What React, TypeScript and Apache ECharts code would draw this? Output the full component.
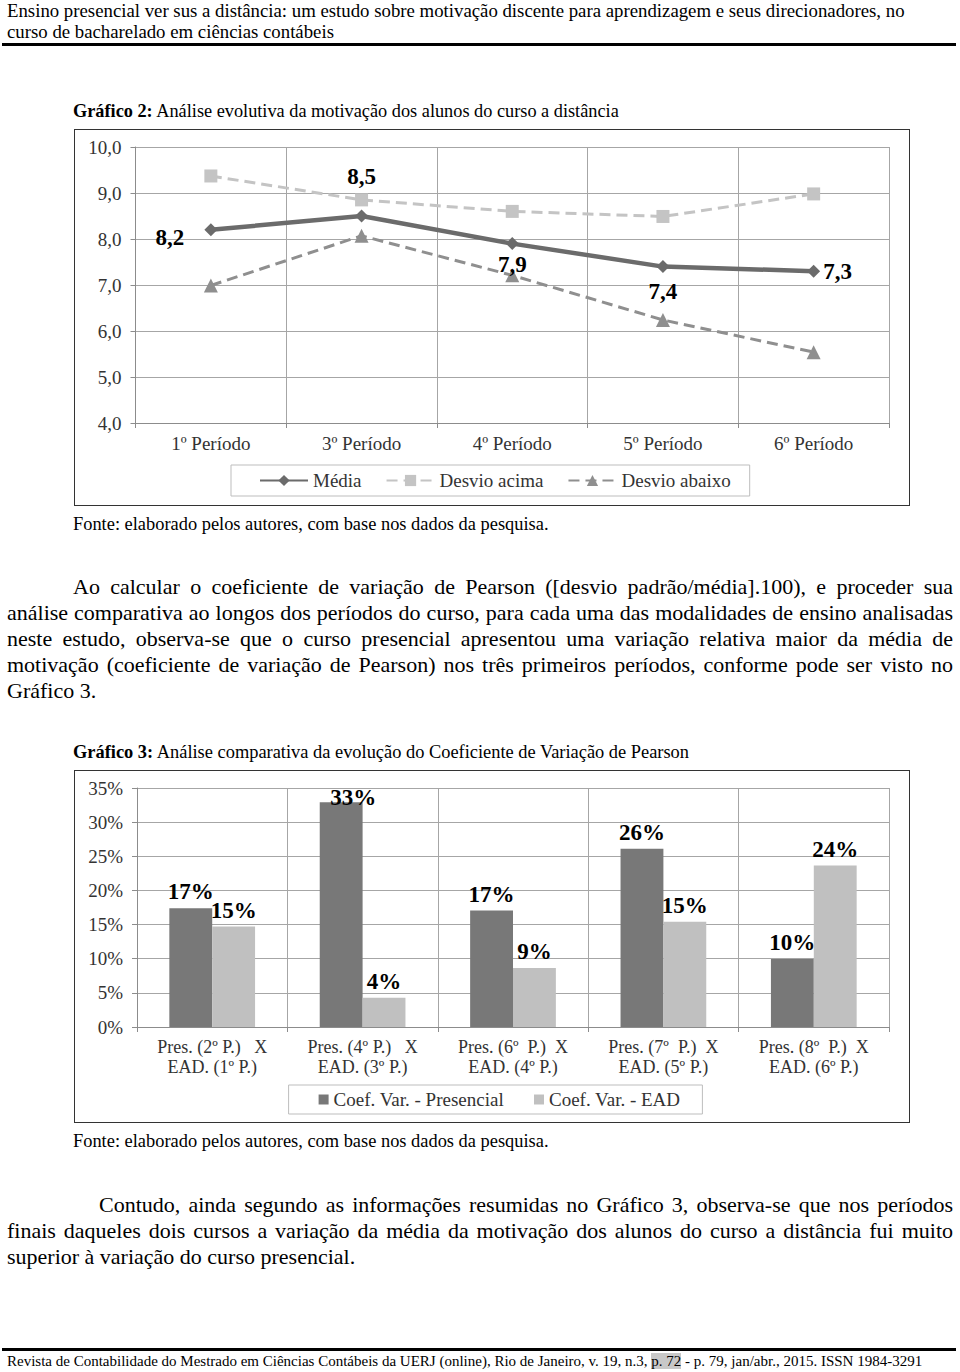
import React, { useEffect, useRef } from "react";
import * as echarts from "echarts";

// ---- Data: Gráfico 2 ----
const periods = ["1º Período", "3º Período", "4º Período", "5º Período", "6º Período"];
const media = [8.2, 8.5, 7.9, 7.4, 7.3];
const desvioAcima = [9.37, 8.85, 8.6, 8.49, 8.98];
const desvioAbaixo = [6.99, 8.07, 7.21, 6.24, 5.54];
const seriesNames1 = ["Média", "Desvio acima", "Desvio abaixo"];

// ---- Data: Gráfico 3 ----
const comparisons = [
  "Pres. (2º P.)   X\nEAD. (1º P.)",
  "Pres. (4º P.)   X\nEAD. (3º P.)",
  "Pres. (6º  P.)  X\nEAD. (4º P.)",
  "Pres. (7º  P.)  X\nEAD. (5º P.)",
  "Pres. (8º  P.)  X\nEAD. (6º P.)",
];
const cvPresencial = [17.4, 32.9, 17.05, 26.1, 9.97];
const cvEAD = [14.7, 4.3, 8.65, 15.4, 23.65];
const seriesNames2 = ["Coef. Var. - Presencial", "Coef. Var. - EAD"];

const SERIF = '"Liberation Serif", "Times New Roman", serif';
const AXIS_FS = 19;
const LABEL_FS = 23;

const mediaLabelPlacement: any[] = [
  { position: "left", offset: [-15, 8] },
  { position: "top", offset: [0, -17] },
  { position: "bottom", offset: [0, -2] },
  { position: "bottom", offset: [0, 2] },
  { position: "right", offset: [-2, 0] },
];

function buildOption1(): any {
  return {
    animation: false,
    textStyle: { fontFamily: SERIF },
    grid: { left: 60.5, right: 20, top: 17, bottom: 82 },
    legend: {
      data: seriesNames1,
      left: 156,
      top: 335,
      padding: [6, 19, 6, 28],
      itemGap: 24,
      itemWidth: 48,
      itemHeight: 14,
      borderColor: "#bdbdbd",
      borderWidth: 1,
      textStyle: { fontFamily: SERIF, fontSize: AXIS_FS, color: "#333" },
    },
    xAxis: {
      type: "category",
      data: periods,
      boundaryGap: true,
      axisLine: { lineStyle: { color: "#8c8c8c", width: 1 } },
      axisTick: { show: true, length: 5, lineStyle: { color: "#8c8c8c" } },
      splitLine: { show: true, lineStyle: { color: "#a6a6a6", width: 1 } },
      axisLabel: { fontFamily: SERIF, fontSize: AXIS_FS, color: "#333", margin: 11 },
    },
    yAxis: {
      type: "value",
      min: 4,
      max: 10,
      interval: 1,
      axisLine: { show: true, lineStyle: { color: "#8c8c8c", width: 1 } },
      axisTick: { show: true, length: 5, lineStyle: { color: "#8c8c8c" } },
      splitLine: { show: true, lineStyle: { color: "#a6a6a6", width: 1 } },
      axisLabel: {
        fontFamily: SERIF,
        fontSize: AXIS_FS,
        color: "#333",
        margin: 14,
        formatter: (v: number) => v.toFixed(1).replace(".", ","),
      },
    },
    series: [
      {
        name: seriesNames1[1],
        type: "line",
        data: desvioAcima,
        symbol: "rect",
        symbolSize: 13,
        itemStyle: { color: "#c4c4c4" },
        lineStyle: { color: "#c4c4c4", width: 3, type: [11, 6] },
        z: 2,
      },
      {
        name: seriesNames1[2],
        type: "line",
        data: desvioAbaixo,
        symbol: "triangle",
        symbolSize: 14,
        itemStyle: { color: "#8f8f8f" },
        lineStyle: { color: "#8f8f8f", width: 3, type: [11, 6] },
        z: 3,
      },
      {
        name: seriesNames1[0],
        type: "line",
        data: media.map((v, i) => ({
          value: v,
          label: {
            show: true,
            position: mediaLabelPlacement[i].position,
            offset: mediaLabelPlacement[i].offset,
          },
        })),
        symbol: "diamond",
        symbolSize: 13,
        itemStyle: { color: "#6b6b6b" },
        lineStyle: { color: "#6b6b6b", width: 4.5 },
        label: {
          show: true,
          fontFamily: SERIF,
          fontSize: LABEL_FS,
          fontWeight: "bold",
          color: "#000",
          distance: 5,
          formatter: (p: any) => Number(p.value).toFixed(1).replace(".", ","),
        },
        z: 4,
      },
    ],
  };
}

function buildOption2(): any {
  const labelBase = {
    show: true,
    position: "top",
    distance: 5,
    fontFamily: SERIF,
    fontSize: LABEL_FS,
    fontWeight: "bold",
    color: "#000",
    formatter: (p: any) => `${Math.round(Number(p.value))}%`,
  };
  return {
    animation: false,
    textStyle: { fontFamily: SERIF },
    grid: { left: 62, right: 20, top: 17, bottom: 95 },
    legend: {
      data: seriesNames2,
      left: 213.6,
      top: 314,
      padding: [5, 22, 5, 30],
      itemGap: 30,
      itemWidth: 10,
      itemHeight: 10,
      icon: "rect",
      borderColor: "#bdbdbd",
      borderWidth: 1,
      textStyle: { fontFamily: SERIF, fontSize: AXIS_FS, color: "#333" },
    },
    xAxis: {
      type: "category",
      data: comparisons,
      boundaryGap: true,
      axisLine: { lineStyle: { color: "#8c8c8c", width: 1 } },
      axisTick: { show: true, length: 5, lineStyle: { color: "#8c8c8c" } },
      splitLine: { show: true, lineStyle: { color: "#a6a6a6", width: 1 } },
      axisLabel: {
        fontFamily: SERIF,
        fontSize: 18,
        lineHeight: 20,
        color: "#333",
        margin: 10,
        interval: 0,
      },
    },
    yAxis: {
      type: "value",
      min: 0,
      max: 35,
      interval: 5,
      axisLine: { show: true, lineStyle: { color: "#8c8c8c", width: 1 } },
      axisTick: { show: true, length: 5, lineStyle: { color: "#8c8c8c" } },
      splitLine: { show: true, lineStyle: { color: "#a6a6a6", width: 1 } },
      axisLabel: {
        fontFamily: SERIF,
        fontSize: AXIS_FS,
        color: "#333",
        margin: 14,
        formatter: (v: number) => `${v}%`,
      },
    },
    series: [
      {
        name: seriesNames2[0],
        type: "bar",
        data: cvPresencial.map((v, i) =>
          i === 1 ? { value: v, label: { offset: [12, 12] } } : v
        ),
        barGap: "0%",
        barCategoryGap: "43%",
        itemStyle: { color: "#787878" },
        label: labelBase,
      },
      {
        name: seriesNames2[1],
        type: "bar",
        data: cvEAD,
        barGap: "0%",
        barCategoryGap: "43%",
        itemStyle: { color: "#c0c0c0" },
        label: labelBase,
      },
    ],
  };
}

function Chart({ option, style }: { option: any; style: React.CSSProperties }) {
  const ref = useRef<HTMLDivElement>(null);
  useEffect(() => {
    if (!ref.current) return;
    const chart = echarts.init(ref.current, undefined, { renderer: "svg" });
    chart.setOption(option);
    return () => chart.dispose();
  }, []);
  return <div ref={ref} style={style} />;
}

const abs = (left: number, top: number, extra: React.CSSProperties = {}): React.CSSProperties => ({
  position: "absolute",
  left,
  top,
  ...extra,
});

function JLine({ top, left, right, text, last, size = 22 }: any) {
  return (
    <div
      style={{
        position: "absolute",
        top,
        left,
        width: right - left,
        height: 26,
        lineHeight: "26px",
        fontSize: size,
        whiteSpace: "nowrap",
        textAlign: last ? "left" : "justify",
        textAlignLast: last ? "left" : "justify",
      } as any}
    >
      {text}
    </div>
  );
}

export default function App() {
  const frame: React.CSSProperties = {
    position: "absolute",
    border: "1.5px solid #333",
    boxSizing: "border-box",
    background: "#fff",
  };
  return (
    <div
      style={{
        position: "absolute",
        left: 0,
        top: 0,
        width: 960,
        height: 1372,
        background: "#fff",
        fontFamily: SERIF,
        color: "#000",
        overflow: "hidden",
      }}
    >
      {/* Header */}
      <div style={abs(7, 0, { fontSize: 18.8, lineHeight: "22px", whiteSpace: "nowrap" })}>
        Ensino presencial ver sus a distância: um estudo sobre motivação discente para aprendizagem e seus direcionadores, no
      </div>
      <div style={abs(7, 21, { fontSize: 18.8, lineHeight: "22px", whiteSpace: "nowrap" })}>
        curso de bacharelado em ciências contábeis
      </div>
      <div style={abs(2, 43, { width: 954, height: 3, background: "#000" })} />

      {/* Gráfico 2 title */}
      <div style={abs(73, 100, { fontSize: 18.3, lineHeight: "22px", whiteSpace: "nowrap" })}>
        <b>Gráfico 2:</b> Análise evolutiva da motivação dos alunos do curso a distância
      </div>
      <Chart
        option={buildOption1()}
        style={{ ...frame, left: 74, top: 129, width: 836, height: 377 }}
      />
      <div style={abs(73, 513, { fontSize: 18.4, lineHeight: "22px", whiteSpace: "nowrap" })}>
        Fonte: elaborado pelos autores, com base nos dados da pesquisa.
      </div>

      {/* Paragraph 1 */}
      <JLine top={574} left={73} right={953} text="Ao calcular o coeficiente de variação de Pearson ([desvio padrão/média].100), e proceder sua" />
      <JLine top={600} left={7} right={953} text="análise comparativa ao longos dos períodos do curso, para cada uma das modalidades de ensino analisadas" />
      <JLine top={626} left={7} right={953} text="neste estudo, observa-se que o curso presencial apresentou uma variação relativa maior da média de" />
      <JLine top={652} left={7} right={953} text="motivação (coeficiente de variação de Pearson) nos três primeiros períodos, conforme pode ser visto no" />
      <JLine top={678} left={7} right={953} text="Gráfico 3." last />

      {/* Gráfico 3 title */}
      <div style={abs(73, 741, { fontSize: 18.4, lineHeight: "22px", whiteSpace: "nowrap" })}>
        <b>Gráfico 3:</b> Análise comparativa da evolução do Coeficiente de Variação de Pearson
      </div>
      <Chart
        option={buildOption2()}
        style={{ ...frame, left: 74, top: 770, width: 836, height: 353 }}
      />
      <div style={abs(73, 1130, { fontSize: 18.4, lineHeight: "22px", whiteSpace: "nowrap" })}>
        Fonte: elaborado pelos autores, com base nos dados da pesquisa.
      </div>

      {/* Paragraph 2 */}
      <JLine top={1192} left={99} right={953} text="Contudo, ainda segundo as informações resumidas no Gráfico 3, observa-se que nos períodos" />
      <JLine top={1218} left={7} right={953} text="finais daqueles dois cursos a variação da média da motivação dos alunos do curso a distância fui muito" />
      <JLine top={1244} left={7} right={953} text="superior à variação do curso presencial." last />

      {/* Footer */}
      <div style={abs(2, 1348, { width: 954, height: 3, background: "#000" })} />
      <div style={abs(7, 1351, { fontSize: 15, lineHeight: "20px", whiteSpace: "nowrap" })}>
        Revista de Contabilidade do Mestrado em Ciências Contábeis da UERJ (online), Rio de Janeiro, v. 19, n.3,{" "}
        <span style={{ background: "#c8c8c8" }}>p. 72</span> - p. 79, jan/abr., 2015. ISSN 1984-3291
      </div>
    </div>
  );
}
